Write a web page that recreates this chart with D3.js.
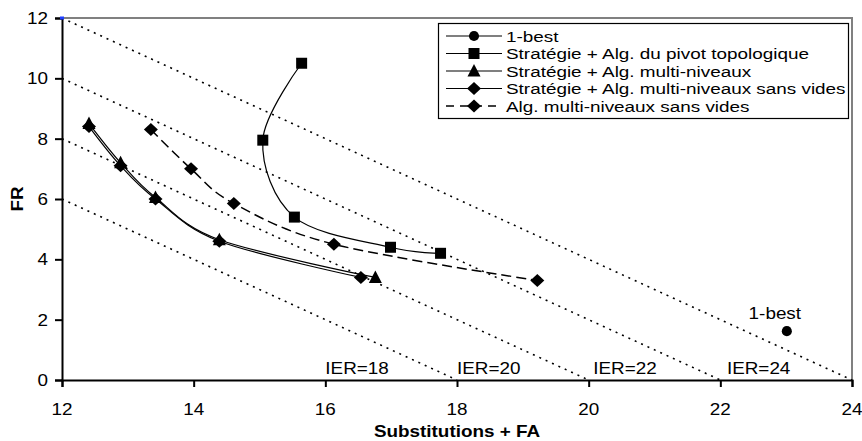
<!DOCTYPE html>
<html><head><meta charset="utf-8">
<script src="https://cdn.jsdelivr.net/npm/d3@7"></script>
<style>body{margin:0;background:#fff}svg{display:block}text{font-family:"Liberation Sans",Arial,sans-serif;fill:#000}</style>
</head><body><svg id="c" width="862" height="441"></svg>
<script>
// ---- data ----
const xTicks = [12,14,16,18,20,22,24];
const yTicks = [0,2,4,6,8,10,12];
const ierLevels = [18,20,22,24];
const ierLabels = ["IER=18","IER=20","IER=22","IER=24"];
const ierLabelX = [16.0,18.0,20.07,22.1];
const seriesNames = ["1-best","Stratégie + Alg. du pivot topologique","Stratégie + Alg. multi-niveaux","Stratégie + Alg. multi-niveaux sans vides","Alg. multi-niveaux sans vides"];
const bestX = [23.01], bestY = [1.62];
const pivotX = [15.64,15.05,15.53,16.99,17.75], pivotY = [10.5,7.95,5.4,4.4,4.2];
const triX = [12.41,12.89,13.42,14.39,16.76], triY = [8.5,7.2,6.05,4.65,3.4];
const diaX = [12.41,12.89,13.42,14.39,16.54], diaY = [8.4,7.1,6.0,4.6,3.4];
const dashX = [13.35,13.96,14.61,16.13,19.22], dashY = [8.3,7.0,5.85,4.5,3.3];

// ---- layout ----
const svg = d3.select("#c");
const L=62,R=852,T=18,B=380, SX=1.18;
const x = d3.scaleLinear().domain([12,24]).range([L,R]);
const y = d3.scaleLinear().domain([0,12]).range([B,T]);
function txt(g,s,px,py,anchor,opts={}){
  const t=g.append("text").attr("transform",`translate(${px},${py}) scale(${opts.sx||SX},1)`)
   .attr("text-anchor",anchor).style("font-size",(opts.size||16)+"px").text(s);
  if(opts.bold) t.style("font-weight","bold");
  return t;
}
// plot border (top/right gray)
svg.append("path").attr("d",`M${L},${T}H${R}V${B}`).attr("fill","none").attr("stroke","#808080").attr("stroke-width",2);

// IER dotted lines x+y=IER
const zip=(a,b)=>a.map((v,i)=>[v,b[i]]);
ierLevels.forEach(v=>{
  svg.append("line").attr("x1",x(12)).attr("y1",y(v-12)).attr("x2",x(v)).attr("y2",y(0))
   .attr("stroke","#000").attr("stroke-width",1.6).attr("stroke-dasharray","2,5");
});
ierLabels.forEach((s,i)=>txt(svg,s,x(ierLabelX[i]),374,"start"));

// axes
const gx=svg.append("g").attr("transform",`translate(0,${B})`).call(d3.axisBottom(x).tickValues(xTicks).tickFormat("").tickSizeOuter(0).tickSize(7));
const gy=svg.append("g").attr("transform",`translate(${L},0)`).call(d3.axisLeft(y).tickValues(yTicks).tickFormat("").tickSizeOuter(0).tickSize(7));
[gx,gy].forEach(g=>{g.selectAll("path,line").attr("stroke","#000").attr("stroke-width",2);});
xTicks.forEach(v=>txt(svg,String(v),x(v),415,"middle"));
yTicks.forEach(v=>txt(svg,String(v),48,y(v)+6,"end"));
txt(svg,"Substitutions + FA",(L+R)/2,437,"middle",{bold:true,size:16});
svg.append("text").attr("transform",`translate(23,${(T+B)/2}) rotate(-90) scale(${SX},1)`).attr("text-anchor","middle")
  .style("font-size","16px").style("font-weight","bold").text("FR");
// small blue mark at origin corner
svg.append("rect").attr("x",x(12)-2).attr("y",y(12)-1.5).attr("width",4).attr("height",3).attr("fill","#1f3fff");

// symbols (custom shapes, Excel-like)
const sym = {
  circle: ()=>d3.symbol().type(d3.symbolCircle).size(80)(),
  square: ()=>"M-5.5,-5.5H5.5V5.5H-5.5Z",
  triangle: ()=>"M0,-7L6.5,5.5H-6.5Z",
  diamond: ()=>"M0,-6.5L7,0L0,6.5L-7,0Z"
};
const line = d3.line().x(d=>x(d[0])).y(d=>y(d[1])).curve(d3.curveCardinal.tension(0));
const series = [
  {pts:zip(bestX,bestY), s:"circle", dash:null},
  {pts:zip(pivotX,pivotY), s:"square", dash:null},
  {pts:zip(triX,triY), s:"triangle", dash:null},
  {pts:zip(diaX,diaY), s:"diamond", dash:null},
  {pts:zip(dashX,dashY), s:"diamond", dash:"10,5"}
];
series.forEach(se=>{
  if(se.pts.length>1) svg.append("path").attr("d",line(se.pts)).attr("fill","none").attr("stroke","#000")
     .attr("stroke-width",se.dash?1.5:1.2).attr("stroke-dasharray",se.dash);
});
series.forEach(se=>{
  se.pts.forEach(p=>svg.append("path").attr("d",sym[se.s]()).attr("transform",`translate(${x(p[0])},${y(p[1])})`).attr("fill","#000"));
});
txt(svg,"1-best",x(bestX[0])-12,319,"middle");

// legend
const lg=svg.append("g");
lg.append("rect").attr("x",438.5).attr("y",23.5).attr("width",410).attr("height",95).attr("fill","#fff").attr("stroke","#000").attr("stroke-width",1.2);
series.forEach((se,i)=>{
  const yy=36+i*17.5;
  lg.append("line").attr("x1",446).attr("x2",502).attr("y1",yy).attr("y2",yy).attr("stroke","#000").attr("stroke-width",se.dash?1.6:1.2).attr("stroke-dasharray",se.dash?"8,6":null);
  lg.append("path").attr("d",sym[se.s]()).attr("transform",`translate(474,${yy})`).attr("fill","#000");
  txt(lg,seriesNames[i],506,yy+5.5,"start",{size:15,sx:1.26});
});
</script></body></html>
